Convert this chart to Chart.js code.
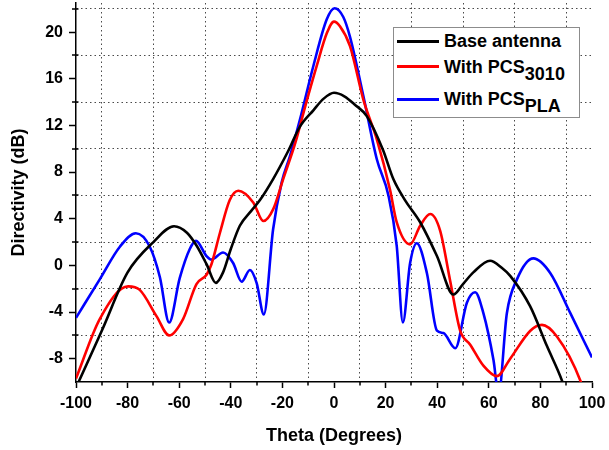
<!DOCTYPE html>
<html lang="en">
<head>
<meta charset="UTF-8">
<title>Directivity vs Theta</title>
<script src="https://cdn.jsdelivr.net/npm/chart.js"></script>
<style>
    body {
        margin: 0;
        background: #fff;
        font-family: "Liberation Sans", Arial, sans-serif;
    }
    .wrap {
        position: relative;
        width: 609px;
        height: 450px;
    }
    .legend {
        position: absolute;
        left: 393px;
        top: 27px;
        width: 185px;
        height: 89px;
        border: 1px solid #8c8c8c;
        background: #fff;
    }
    .legend .row {
        position: absolute;
        left: 50px;
        font-size: 18px;
        font-weight: bold;
        line-height: 18px;
        white-space: nowrap;
        color: #000;
    }
    .legend .row span {
        position: relative;
        top: 7px;
    }
    .legend .swatch {
        position: absolute;
        left: 3px;
        width: 42px;
        height: 3px;
    }
</style>
</head>
<body>
<div class="wrap">
    <canvas id="chart" width="609" height="450"></canvas>
    <div class="legend">
        <div class="swatch" style="top:12px;background:#000"></div>
        <div class="row" style="top:4px">Base antenna</div>
        <div class="swatch" style="top:37px;background:#ff0000"></div>
        <div class="row" style="top:30px">With PCS<span>3010</span></div>
        <div class="swatch" style="top:70px;background:#0000ff"></div>
        <div class="row" style="top:62px">With PCS<span>PLA</span></div>
    </div>
</div>

<script>
    // tick labels and grid positions
    const xTickValues = [-100, -80, -60, -40, -20, 0, 20, 40, 60, 80, 100];
    const xGridValues = [-90, -70, -50, -30, -10, 10, 30, 50, 70, 90];
    const yTickValues = [-8, -4, 0, 4, 8, 12, 16, 20];
    const yGridValues = [-6, -2, 2, 6, 10, 14, 18, 22];

    // Base antenna
    const baseTheta = [-99, -90, -80, -70, -62, -57, -53.3, -49.4, -45.8, -43, -40, -36.5, -32, -28.7, -23.6, -18, -13.2, -8, -4, 0, 4, 8, 12.7, 19, 23, 27.5, 33.4, 39.9, 46.3, 50, 54, 60.5, 65, 68.3, 76, 82.5, 88.4, 90];
    const baseDir = [-10, -5.6, -0.6, 2.0, 3.35, 2.8, 1.7, 0.1, -1.5, -0.6, 1.4, 3.4, 4.7, 5.6, 7.4, 9.7, 11.9, 13.3, 14.3, 14.8, 14.5, 13.8, 12.8, 9.9, 7.4, 5.6, 3.7, 0.8, -2.5, -1.6, -0.6, 0.4, -0.2, -0.9, -3.5, -6.9, -9.9, -11];

    // With PCS 3010
    const pcs3010Theta = [-100, -90.8, -79.8, -75.3, -68.8, -63.9, -58.5, -53.3, -49.4, -47.5, -44.2, -40.4, -37.1, -31.3, -27.4, -23.6, -19.7, -15, -11.2, -6.7, -2.8, 0, 2.3, 6.2, 11.4, 16.6, 21.7, 24.3, 29.5, 33.4, 37.3, 41.1, 45, 48.9, 52.8, 57.9, 63.1, 68.3, 76.1, 80.6, 86.4, 95.5, 97];
    const pcs3010Dir = [-9.7, -4.6, -1.8, -2.1, -4.35, -6.0, -4.6, -1.6, -0.8, 0.1, 2.8, 5.6, 6.4, 5.4, 3.8, 4.8, 7.4, 10.5, 13.6, 17.1, 19.9, 20.9, 20.5, 18.8, 14.2, 10.8, 6.5, 3.7, 1.8, 3.4, 4.4, 3.0, -1.3, -5.6, -6.8, -8.6, -9.5, -8.0, -5.6, -5.1, -6.1, -9.9, -11];

    // With PCS PLA
    const plaTheta = [-100, -90.8, -83, -76.8, -71.4, -67.5, -63.9, -59.8, -55.9, -53.5, -49.4, -47.5, -43, -39.1, -35.8, -32.6, -30, -27.2, -23.6, -20.3, -17.1, -13.2, -8, -2.8, 0.2, 3.6, 6.2, 11.4, 16.6, 21.1, 24.3, 26.7, 29.5, 32.1, 36, 39.9, 42.4, 47, 51.5, 54.7, 57.9, 61.8, 63.8, 67, 70.9, 77.3, 83.8, 91.6, 100];
    const plaDir = [-4.5, -1.2, 1.6, 2.75, 1.6, -1.0, -4.9, -1.1, 1.4, 2.1, 0.8, 0.5, 1.1, 0.2, -1.4, -0.4, -1.5, -4.2, 3.1, 7.1, 9.35, 12.5, 17.1, 21.1, 22.05, 21.3, 19.6, 14.5, 9.1, 6.0, 1.7, -4.9, 0.2, 1.9, -0.65, -5.6, -5.8, -7.1, -3.2, -2.3, -4.1, -8.1, -11, -4.1, -1.2, 0.6, -0.65, -4.1, -7.9];

    const pts = (xs, ys) => xs.map((x, i) => ({ x: x, y: ys[i] }));

    const axisFont = { family: "'Liberation Sans', Arial, sans-serif", size: 16, weight: 'bold' };
    const titleFont = { family: "'Liberation Sans', Arial, sans-serif", size: 18, weight: 'bold' };

    // short minor ticks at the dotted grid positions
    const minorTicks = {
        id: 'minorTicks',
        afterDraw(chart) {
            const { ctx, chartArea, scales: { x, y } } = chart;
            ctx.save();
            ctx.strokeStyle = '#000';
            ctx.lineWidth = 1.5;
            ctx.beginPath();
            xGridValues.forEach(v => {
                const px = Math.round(x.getPixelForValue(v));
                ctx.moveTo(px, chartArea.bottom);
                ctx.lineTo(px, chartArea.bottom + 3.5);
            });
            yGridValues.forEach(v => {
                const py = Math.round(y.getPixelForValue(v));
                ctx.moveTo(chartArea.left - 4, py);
                ctx.lineTo(chartArea.left + 2.5, py);
            });
            ctx.stroke();
            ctx.restore();
        }
    };

    const ds = (label, data, color) => ({
        label: label,
        data: data,
        borderColor: color,
        backgroundColor: color,
        borderWidth: 2.6,
        pointRadius: 0,
        cubicInterpolationMode: 'monotone',
        fill: false
    });

    new Chart(document.getElementById('chart'), {
        type: 'line',
        data: {
            datasets: [
                ds('Base antenna', pts(baseTheta, baseDir), '#000000'),
                ds('With PCS3010', pts(pcs3010Theta, pcs3010Dir), '#ff0000'),
                ds('With PCSPLA', pts(plaTheta, plaDir), '#0000ff')
            ]
        },
        options: {
            responsive: false,
            animation: false,
            layout: { padding: { top: 3, right: 17, left: 0, bottom: 0 } },
            plugins: {
                legend: { display: false },
                tooltip: { enabled: false }
            },
            scales: {
                x: {
                    type: 'linear',
                    min: -100,
                    max: 100,
                    afterBuildTicks: s => {
                        s.ticks = [...xTickValues, ...xGridValues].sort((a, b) => a - b).map(v => ({ value: v }));
                    },
                    afterFit: s => {
                        s.height = 68;
                        s.paddingLeft = 0;
                        s.paddingRight = 0;
                    },
                    ticks: {
                        autoSkip: false,
                        maxRotation: 0,
                        padding: 6,
                        color: '#000',
                        font: axisFont,
                        callback: v => xTickValues.includes(v) ? String(v) : ''
                    },
                    grid: {
                        color: c => c.tick && xGridValues.includes(c.tick.value) ? '#4a4a4a' : 'transparent',
                        lineWidth: 1,
                        tickLength: 6,
                        tickWidth: 1.5,
                        tickColor: c => c.tick && xTickValues.includes(c.tick.value) ? '#000' : 'transparent'
                    },
                    border: { color: '#000', width: 1.5, dash: [1.5, 3] },
                    title: {
                        display: true,
                        text: 'Theta (Degrees)',
                        color: '#000',
                        font: titleFont,
                        padding: { top: 0, bottom: 3 }
                    }
                },
                y: {
                    min: -10,
                    max: 22.5,
                    afterBuildTicks: s => {
                        s.ticks = [...yTickValues, ...yGridValues].sort((a, b) => a - b).map(v => ({ value: v }));
                    },
                    afterFit: s => {
                        s.width = 76;
                        s.paddingTop = 0;
                        s.paddingBottom = 0;
                    },
                    ticks: {
                        autoSkip: false,
                        padding: 6,
                        color: '#000',
                        font: axisFont,
                        callback: v => yTickValues.includes(v) ? String(v) : ''
                    },
                    grid: {
                        color: c => c.tick && yGridValues.includes(c.tick.value) ? '#4a4a4a' : 'transparent',
                        lineWidth: 1,
                        tickLength: 7,
                        tickWidth: 1.5,
                        tickColor: c => c.tick && yTickValues.includes(c.tick.value) ? '#000' : 'transparent'
                    },
                    border: { color: '#000', width: 1.5, dash: [1.5, 3] },
                    title: {
                        display: true,
                        text: 'Directivity (dB)',
                        color: '#000',
                        font: titleFont,
                        padding: { top: 8, bottom: 0 }
                    }
                }
            }
        },
        plugins: [minorTicks]
    });
</script>
</body>
</html>
